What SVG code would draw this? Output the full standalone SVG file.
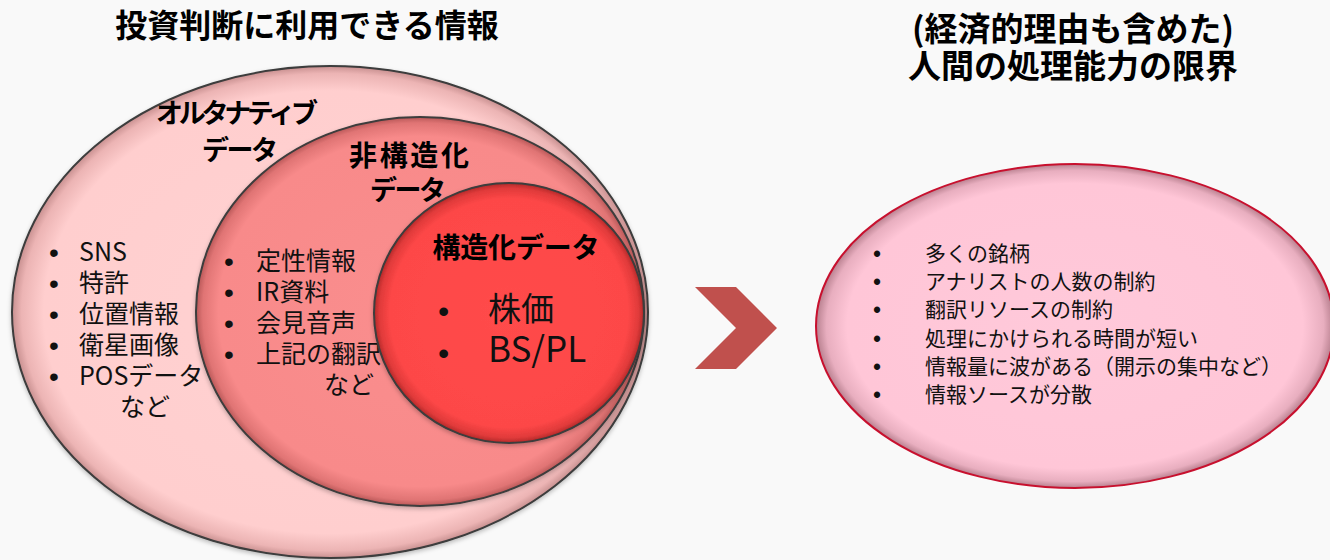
<svg xmlns="http://www.w3.org/2000/svg" width="1330" height="560" viewBox="0 0 1330 560">
  <defs>
    <style>
      text { font-family: "Noto Sans CJK JP", "Noto Sans", sans-serif; fill: #111; }
      .title { font-size: 32px; font-weight: 700; text-anchor: middle; fill: #000; }
      .label { font-weight: 700; text-anchor: middle; fill: #000; }
      .item { font-size: 25px; }
      .ritem { font-size: 21px; }
      .b { font-family: "Liberation Sans", Arial, sans-serif; font-size: 28px; }
      .rb { font-family: "Liberation Sans", Arial, sans-serif; font-size: 23px; }
      .venn { stroke: #3c3c3c; stroke-width: 2; }
    </style>
    <radialGradient id="gOuter" cx="0.5" cy="0.5" r="0.5">
      <stop offset="0" stop-color="#ffd2d2"/>
      <stop offset="0.9" stop-color="#ffcece"/>
      <stop offset="0.97" stop-color="#ecb4b4"/>
      <stop offset="1" stop-color="#c89090"/>
    </radialGradient>
    <radialGradient id="gMid" cx="0.5" cy="0.5" r="0.5">
      <stop offset="0" stop-color="#fa8e8e"/>
      <stop offset="0.9" stop-color="#f88a8a"/>
      <stop offset="0.97" stop-color="#e07474"/>
      <stop offset="1" stop-color="#b85858"/>
    </radialGradient>
    <radialGradient id="gInner" cx="0.5" cy="0.5" r="0.5">
      <stop offset="0" stop-color="#ff4b4b"/>
      <stop offset="0.88" stop-color="#fd4747"/>
      <stop offset="0.96" stop-color="#e03a3a"/>
      <stop offset="1" stop-color="#b02828"/>
    </radialGradient>
    <radialGradient id="gRight" cx="0.5" cy="0.5" r="0.5">
      <stop offset="0" stop-color="#ffc9da"/>
      <stop offset="0.88" stop-color="#ffc6d7"/>
      <stop offset="0.96" stop-color="#e8aebf"/>
      <stop offset="1" stop-color="#b8808f"/>
    </radialGradient>
    <filter id="shadow" x="-10%" y="-10%" width="120%" height="120%">
      <feDropShadow dx="0" dy="2" stdDeviation="2" flood-color="#000" flood-opacity="0.25"/>
    </filter>
  </defs>

  <rect width="1330" height="560" fill="#f9f9f9"/>

  <g id="title-left">
    <text class="title" x="307" y="37">投資判断に利用できる情報</text>
  </g>
  <g id="title-right">
    <text class="title" style="font-size:33px"><tspan x="1073" y="41">(経済的理由も含めた)</tspan><tspan x="1073" y="78">人間の処理能力の限界</tspan></text>
  </g>

  <g id="alternative-data">
    <ellipse class="venn" cx="330" cy="312" rx="318" ry="246" fill="url(#gOuter)" filter="url(#shadow)"/>
    <text class="label" x="237" y="123" font-size="27" textLength="162" lengthAdjust="spacing">オルタナティブ</text>
    <text class="label" x="240" y="160" font-size="27" textLength="76" lengthAdjust="spacing">データ</text>
    <text class="item"><tspan class="b" x="49" y="262">•</tspan><tspan x="79" y="261">SNS</tspan><tspan class="b" x="49" y="293">•</tspan><tspan x="79" y="292">特許</tspan><tspan class="b" x="49" y="324">•</tspan><tspan x="79" y="323">位置情報</tspan><tspan class="b" x="49" y="355">•</tspan><tspan x="79" y="354">衛星画像</tspan><tspan class="b" x="49" y="386">•</tspan><tspan x="79" y="385">POSデータ</tspan><tspan x="120" y="416">など</tspan></text>
  </g>

  <g id="unstructured-data">
    <ellipse class="venn" cx="420" cy="311.5" rx="224" ry="194.5" fill="url(#gMid)" filter="url(#shadow)"/>
    <text class="label" x="409" y="166" font-size="28" textLength="120" lengthAdjust="spacing">非構造化</text>
    <text class="label" x="408" y="200" font-size="27" textLength="76" lengthAdjust="spacing">データ</text>
    <text class="item"><tspan class="b" x="224" y="271">•</tspan><tspan x="256" y="270">定性情報</tspan><tspan class="b" x="224" y="302">•</tspan><tspan x="256" y="301">IR資料</tspan><tspan class="b" x="224" y="333">•</tspan><tspan x="256" y="332">会見音声</tspan><tspan class="b" x="224" y="364">•</tspan><tspan x="256" y="363">上記の翻訳</tspan><tspan x="324" y="394">など</tspan></text>
  </g>

  <g id="structured-data">
    <ellipse class="venn" cx="509" cy="313" rx="135" ry="130" fill="url(#gInner)" filter="url(#shadow)"/>
    <text class="label" x="516" y="258" font-size="28" textLength="167" lengthAdjust="spacing">構造化データ</text>
    <text font-size="33"><tspan class="b" style="font-size:32px" x="438" y="322">•</tspan><tspan x="488" y="321">株価</tspan><tspan class="b" style="font-size:32px" x="438" y="364">•</tspan><tspan x="488" y="362" font-size="35">BS/PL</tspan></text>
  </g>

  <g id="connectors">
    <polygon points="695,287 736,287 777,328 736,369 695,369 736,328" fill="#c0504d"/>
  </g>

  <g id="human-limits">
    <ellipse cx="1075" cy="326" rx="259" ry="162" fill="url(#gRight)" stroke="#c8102e" stroke-width="2"/>
    <text class="ritem"><tspan class="rb" x="873" y="262">•</tspan><tspan x="925" y="261">多くの銘柄</tspan><tspan class="rb" x="873" y="290">•</tspan><tspan x="925" y="289">アナリストの人数の制約</tspan><tspan class="rb" x="873" y="318">•</tspan><tspan x="925" y="317">翻訳リソースの制約</tspan><tspan class="rb" x="873" y="347">•</tspan><tspan x="925" y="346">処理にかけられる時間が短い</tspan><tspan class="rb" x="873" y="375">•</tspan><tspan x="925" y="374">情報量に波がある（開示の集中など）</tspan><tspan class="rb" x="873" y="403">•</tspan><tspan x="925" y="402">情報ソースが分散</tspan></text>
  </g>
</svg>
